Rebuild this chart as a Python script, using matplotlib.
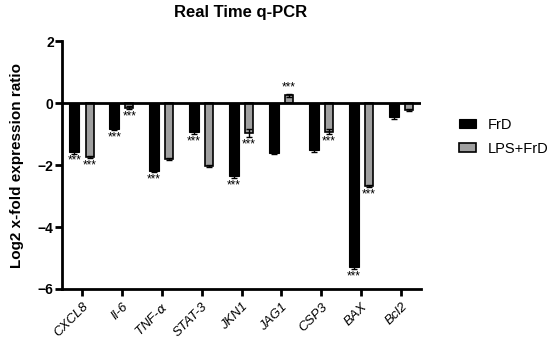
import matplotlib.pyplot as plt
import numpy as np

genes = ['CXCL8', 'Il-6', r'TNF-$\alpha$', 'STAT-3', 'JKN1', 'JAG1', 'CSP3', 'BAX', 'Bcl2']
frd = [-1.58, -0.83, -2.18, -0.94, -2.35, -1.62, -1.53, -5.3, -0.46]
frd_err = [0.05, 0.05, 0.05, 0.06, 0.06, 0.04, 0.04, 0.05, 0.05]
lps_frd = [-1.74, -0.15, -1.81, -2.02, -0.97, 0.25, -0.92, -2.68, -0.22]
lps_err = [0.04, 0.04, 0.04, 0.03, 0.12, 0.05, 0.07, 0.04, 0.04]
frd_sig = ['***', '***', '***', '***', '***', '', '', '***', '']
lps_sig = ['***', '***', '', '', '***', '***', '***', '***', '']

plt.rcParams['font.family'] = ['Liberation Sans', 'DejaVu Sans']
plt.rcParams['mathtext.fontset'] = 'dejavusans'

fig = plt.figure(figsize=(5.5, 3.42), dpi=100)
ax = fig.add_axes([0.1127, 0.155, 0.653, 0.725])

x = np.arange(len(genes))
off = 0.19
w = 0.25
ax.bar(x - off, frd, w, color='black', edgecolor='black', linewidth=0.8,
       yerr=frd_err, capsize=2, error_kw=dict(elinewidth=1, capthick=1), label='FrD')
ax.bar(x + off, lps_frd, w * 0.8, color='#a0a0a0', edgecolor='black', linewidth=1.2,
       yerr=lps_err, capsize=2, error_kw=dict(elinewidth=1, capthick=1), label='LPS+FrD')

def stars(xs, vals, errs, sig):
    for xi, v, e, s in zip(xs, vals, errs, sig):
        if not s:
            continue
        if v < 0:
            ax.text(xi, v - e - 0.04, s, ha='center', va='top', fontsize=8.5)
        else:
            ax.text(xi, v + e + 0.0, s, ha='center', va='bottom', fontsize=8.5)

stars(x - off, frd, frd_err, frd_sig)
stars(x + off, lps_frd, lps_err, lps_sig)

ax.axhline(0, color='black', linewidth=2, zorder=3)
ax.set_xlim(-0.5, 8.5)
ax.set_ylim(-6, 2)
ax.set_yticks([-6, -4, -2, 0, 2])
ax.set_yticklabels(['\u22126', '\u22124', '\u22122', '0', '2'], fontweight='bold', fontsize=10)
ax.set_xticks(x)
ax.set_xticklabels(genes, rotation=45, ha='right', rotation_mode='anchor',
                   style='italic', fontsize=9.5)
for sp in ['top', 'right']:
    ax.spines[sp].set_visible(False)
for sp in ['left', 'bottom']:
    ax.spines[sp].set_linewidth(2)
ax.tick_params(axis='both', length=5, width=2, direction='out')
ax.tick_params(axis='y', pad=1)

ax.set_ylabel('Log2 x-fold expression ratio', fontweight='bold', fontsize=11, labelpad=10)
fig.text(0.437, 0.985, 'Real Time q-PCR', ha='center', va='top',
         fontweight='bold', fontsize=12)

fig.legend(loc='center left', bbox_to_anchor=(0.81, 0.60), frameon=False,
           fontsize=10.5, handlelength=1.2, handleheight=0.6, labelspacing=0.7)

fig.savefig('out.png', dpi=100)
